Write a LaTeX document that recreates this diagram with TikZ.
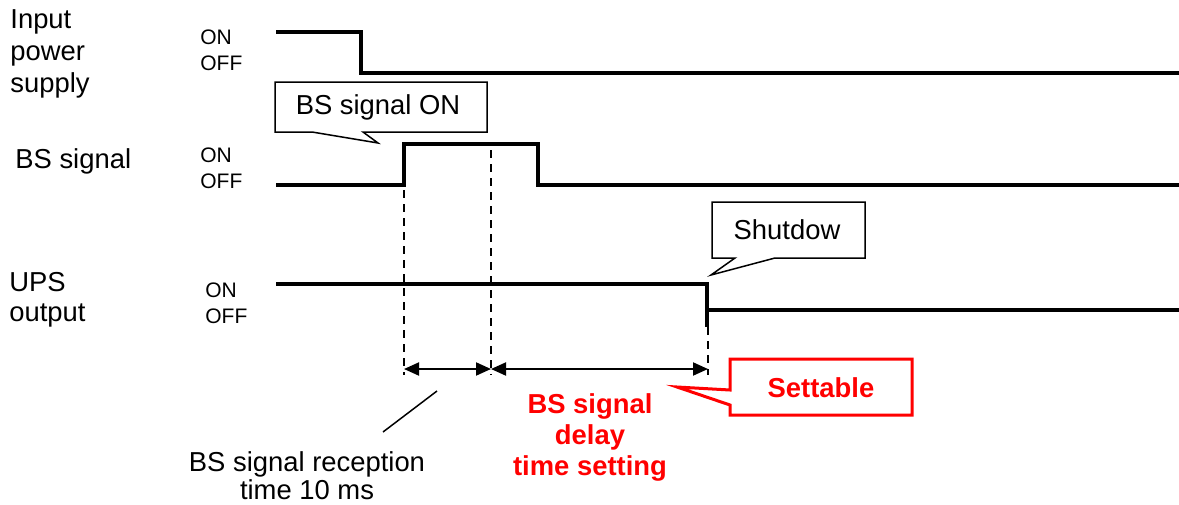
\documentclass[tikz,border=0pt]{standalone}
\usepackage{fontspec}
\setmainfont{Liberation Sans}
\usetikzlibrary{arrows.meta}
\definecolor{alertred}{RGB}{255,0,0}
\tikzset{
  sig/.style={line width=1.8pt, line join=miter},
  guide/.style={line width=0.75pt, dash pattern=on 4pt off 3pt},
  span/.style={line width=1pt, {Triangle[length=7.5pt,width=6.5pt]}-{Triangle[length=7.5pt,width=6.5pt]}},
  callout/.style={draw, line width=0.75pt, fill=white},
  redcallout/.style={draw=alertred, line width=1.5pt, fill=white},
  lbl/.style={font=\fontsize{13.7}{16}\selectfont, align=left, inner sep=0pt},
  state/.style={font=\fontsize{10.5}{13}\selectfont, align=left, inner sep=0pt},
  note/.style={font=\fontsize{13.7}{14}\selectfont, align=center, inner sep=0pt},
  rednote/.style={font=\fontsize{13.7}{15.5}\selectfont\bfseries, text=alertred, align=center, inner sep=0pt}
}
\begin{document}
\begin{tikzpicture}[x=0.5pt, y=-0.5pt]
    \useasboundingbox (0,0) rectangle (1179,504);

    % signal names and levels
    \node[lbl, anchor=west] (inname) at (10,54) {Input\\power\\supply};
    \node[lbl, anchor=west] (bsname) at (15,161) {BS signal};
    \node[lbl, anchor=west, font=\fontsize{13.7}{15}\selectfont] (upsname) at (9,300) {UPS\\output};
    \foreach \n/\x/\y in {inlvl/200/50, bslvl/200/168, upslvl/205/303}
        \node[state, anchor=west] (\n) at (\x,\y) {ON\\OFF};

    % input power supply
    \coordinate (in0) at (276,32);
    \coordinate (in1) at (361,32);
    \coordinate (in2) at (361,73);
    \coordinate (in3) at (1179,73);
    \draw[sig] (in0)--(in1)--(in2)--(in3);

    % BS signal
    \coordinate (bs0) at (276,185);
    \coordinate (bs1) at (404,185);
    \coordinate (bs2) at (404,144);
    \coordinate (bs3) at (538,144);
    \coordinate (bs4) at (538,185);
    \coordinate (bs5) at (1179,185);
    \draw[sig] (bs0)--(bs1)--(bs2)--(bs3)--(bs4)--(bs5);

    % UPS output
    \coordinate (ups0) at (276,284);
    \coordinate (ups1) at (707,284);
    \coordinate (ups2) at (707,327);
    \coordinate (ups3) at (707,310);
    \coordinate (ups4) at (1179,310);
    \draw[sig] (ups0)--(ups1)--(ups2);
    \draw[sig] (ups3)--(ups4);

    % timing guides
    \coordinate (ta) at (404,369);
    \coordinate (tb) at (491,369);
    \coordinate (tc) at (708,369);
    \draw[guide] (404,190)--(404,375);
    \draw[guide] (491,150)--(491,375);
    \draw[guide] (708,327)--(708,375);
    \draw[span] (ta)--(tb);
    \draw[span] (tb)--(tc);

    % callouts
    \draw[callout] (275,82)--(487,82)--(487,132)--(363,132)--(378,143)--(312,132)--(275,132)--cycle;
    \node[lbl] (bson) at (378,107) {BS signal ON};
    \draw[callout] (712,202)--(865,202)--(865,258)--(775,258)--(711,275)--(735,258)--(712,258)--cycle;
    \node[lbl] (shut) at (787,230) {Shutdow};
    \draw[redcallout] (730,359)--(912,359)--(912,415)--(730,415)--(730,405)--(677,387)--(730,390)--cycle;
    \node[rednote] (sett) at (821,388) {Settable};

    % notes below
    \node[rednote] (delay) at (590,437) {BS signal\\delay\\time setting};
    \node[note] (recv) at (307,476) {BS signal reception\\time 10 ms};
    \coordinate (lead0) at (437,391);
    \coordinate (lead1) at (383,432);
    \draw[line width=0.75pt] (lead0)--(lead1);
\end{tikzpicture}
\end{document}
